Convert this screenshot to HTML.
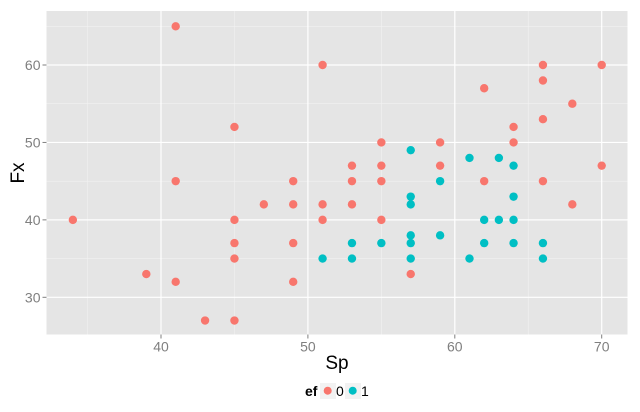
<!DOCTYPE html>
<html><head><meta charset="utf-8"><style>body{margin:0;background:#fff}svg{display:block}</style></head><body>
<svg id="s" width="640" height="412" xmlns="http://www.w3.org/2000/svg" font-family="Liberation Sans, sans-serif">
<rect x="46.5" y="11" width="581" height="323.5" fill="#e5e5e5"/>
<g id="grid"></g>
<g id="pts"></g>
<g id="ticks" fill="#7f7f7f" font-size="14"></g>
<text x="337" y="369" font-size="19" text-anchor="middle" fill="#000">Sp</text>
<text transform="translate(24,173) rotate(-90)" font-size="19" text-anchor="middle" fill="#000">Fx</text>
<text x="305" y="396" font-size="14" font-weight="bold" fill="#000">ef</text>
<rect x="320" y="383" width="16" height="16" fill="#f2f2f2"/>
<circle cx="327.7" cy="390.7" r="4" fill="#F8766D"/>
<text x="336" y="396" font-size="14" fill="#000">0</text>
<rect x="345" y="383" width="16" height="16" fill="#f2f2f2"/>
<circle cx="352.7" cy="390.7" r="4" fill="#00BFC4"/>
<text x="361" y="396" font-size="14" fill="#000">1</text>
</svg>
<script>
var X=function(v){return 161+(v-40)*14.69},Y=function(v){return 297.3-(v-30)*7.743};
var g="",L=46.5,R=627.5,T=11,B=334.5;
[35,45,55,65].forEach(v=>g+=`<line x1="${X(v)}" x2="${X(v)}" y1="${T}" y2="${B}" stroke="#f2f2f2" stroke-width="0.6"/>`);
[35,45,55,65].forEach(v=>g+=`<line y1="${Y(v)}" y2="${Y(v)}" x1="${L}" x2="${R}" stroke="#f2f2f2" stroke-width="0.6"/>`);
[40,50,60,70].forEach(v=>g+=`<line x1="${X(v)}" x2="${X(v)}" y1="${T}" y2="${B}" stroke="#fff" stroke-width="1.2"/>`);
[30,40,50,60].forEach(v=>g+=`<line y1="${Y(v)}" y2="${Y(v)}" x1="${L}" x2="${R}" stroke="#fff" stroke-width="1.2"/>`);
document.getElementById("grid").innerHTML=g;
var t="";
[40,50,60,70].forEach(v=>t+=`<line x1="${X(v)}" x2="${X(v)}" y1="${B}" y2="${B+4}" stroke="#7f7f7f"/><text x="${X(v)}" y="${B+17}" text-anchor="middle">${v}</text>`);
[30,40,50,60].forEach(v=>t+=`<line x1="${L-4}" x2="${L}" y1="${Y(v)}" y2="${Y(v)}" stroke="#7f7f7f"/><text x="${L-6}" y="${Y(v)+5}" text-anchor="end">${v}</text>`);
document.getElementById("ticks").innerHTML=t;
var r=[[34,40],[39,33],[41,65],[41,45],[41,32],[43,27],[45,52],[45,40],[45,37],[45,35],[45,27],[47,42],[49,45],[49,42],[49,37],[49,32],[51,60],[51,42],[51,40],[53,47],[53,45],[53,42],[55,50],[55,47],[55,45],[55,40],[57,33],[59,50],[59,47],[62,57],[62,45],[64,52],[64,50],[66,60],[66,58],[66,53],[66,45],[68,55],[68,42],[70,60],[70,47]];
var c=[[51,35],[53,37],[53,35],[55,37],[57,49],[57,43],[57,42],[57,38],[57,37],[57,35],[59,45],[59,38],[61,48],[61,35],[62,40],[62,37],[63,48],[63,40],[64,47],[64,43],[64,40],[64,37],[66,37],[66,35]];
var p="";
r.forEach(a=>p+=`<circle cx="${X(a[0])}" cy="${Y(a[1])}" r="4.2" fill="#F8766D"/>`);
c.forEach(a=>p+=`<circle cx="${X(a[0])}" cy="${Y(a[1])}" r="4.2" fill="#00BFC4"/>`);
document.getElementById("pts").innerHTML=p;
</script>
</body></html>
